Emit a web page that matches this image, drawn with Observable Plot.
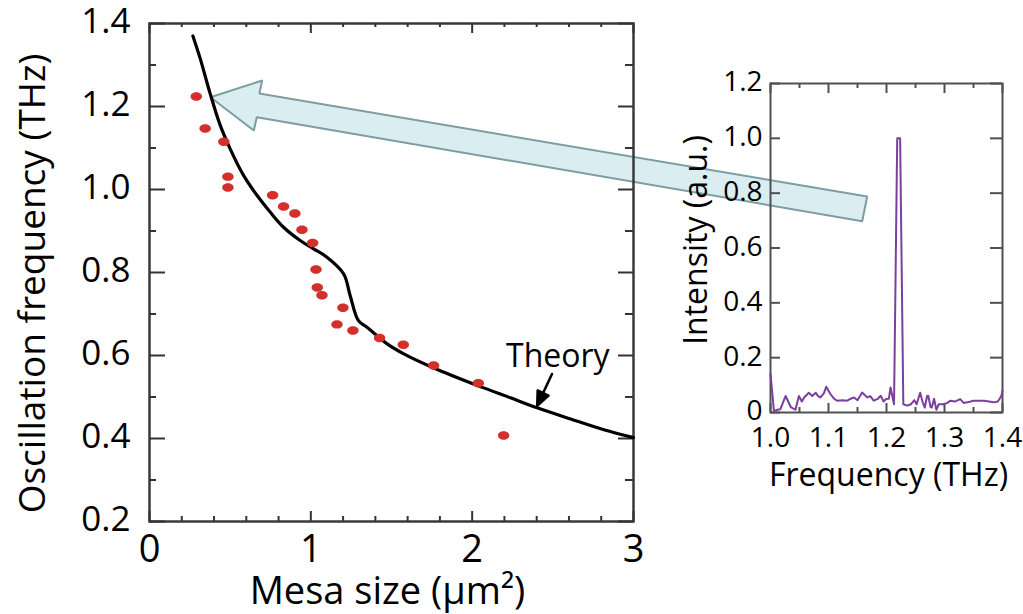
<!DOCTYPE html>
<html><head><meta charset="utf-8">
<script src="https://cdn.jsdelivr.net/npm/d3@7"></script>
<script src="https://cdn.jsdelivr.net/npm/@observablehq/plot@0.6"></script>
<style>
html,body{margin:0;padding:0;background:#fff;}
#wrap{position:relative;width:1023px;height:614px;overflow:hidden;font-family:"Open Sans",sans-serif;}
#wrap svg{position:absolute;background:transparent;overflow:visible;}
</style></head><body><div id="wrap"></div>
<script>
// ---- Main chart data ----
const mesaSize     = [0.29, 0.345, 0.461, 0.486, 0.486, 0.763, 0.831, 0.901, 0.945, 1.011, 1.032, 1.040, 1.069, 1.199, 1.162, 1.261, 1.426, 1.573, 1.761, 2.038, 2.195];
const measuredFreq = [1.224, 1.147, 1.115, 1.031, 1.005, 0.986, 0.959, 0.942, 0.903, 0.871, 0.807, 0.764, 0.745, 0.715, 0.675, 0.660, 0.642, 0.626, 0.576, 0.533, 0.407];
const theorySize   = [0.269, 0.314, 0.376, 0.438, 0.500, 0.583, 0.666, 0.749, 0.831, 0.934, 1.017, 1.100, 1.203, 1.244, 1.295, 1.348, 1.410, 1.473, 1.576, 1.762, 2.031, 2.238, 2.403, 2.610, 2.816, 3.0];
const theoryFreq   = [1.370, 1.316, 1.231, 1.155, 1.098, 1.034, 0.986, 0.945, 0.909, 0.877, 0.857, 0.837, 0.797, 0.744, 0.684, 0.668, 0.648, 0.628, 0.604, 0.570, 0.528, 0.498, 0.474, 0.447, 0.421, 0.402];
const mainXTicks      = [0, 1, 2, 3];
const mainXMinorTicks = [0.2, 0.4, 0.6, 0.8, 1.2, 1.4, 1.6, 1.8, 2.2, 2.4, 2.6, 2.8];
const mainYTicks      = [0.2, 0.4, 0.6, 0.8, 1.0, 1.2, 1.4];
const mainYMinorTicks = [0.3, 0.5, 0.7, 0.9, 1.1, 1.3];
const mainXLabel = "Mesa size (μm²)";
const mainYLabel = "Oscillation frequency (THz)";
const theoryLabel = "Theory";
// annotation anchors (main chart data units)
const theoryLabelPos = {x: 2.21, y: 0.572};
const theoryArrowTip = {x: 2.403, y: 0.479};
// callout arrow outline (main chart data units), from the inset peak to the 1.22 THz point
const calloutX = [0.378, 0.6986, 0.6806, 4.4486, 4.4176, 0.6651, 0.6465];
const calloutY = [1.2224, 1.2627, 1.2313, 0.9831, 0.9236, 1.1742, 1.1422];

// ---- Inset spectrum data ----
const specFreq = [1.000, 1.006, 1.012, 1.017, 1.026, 1.035, 1.043, 1.049, 1.054, 1.058, 1.066, 1.072, 1.078, 1.082, 1.086, 1.092, 1.096, 1.104, 1.110, 1.115, 1.124, 1.132, 1.138, 1.144, 1.150, 1.158, 1.167, 1.172, 1.178, 1.185, 1.190, 1.195, 1.199, 1.204, 1.207, 1.210, 1.213, 1.2185, 1.2235, 1.229, 1.236, 1.242, 1.248, 1.252, 1.258, 1.262, 1.266, 1.270, 1.272, 1.276, 1.278, 1.282, 1.286, 1.290, 1.298, 1.305, 1.310, 1.318, 1.327, 1.333, 1.339, 1.345, 1.350, 1.368, 1.385, 1.392, 1.398, 1.400];
const specInt  = [0.140, 0.005, 0.010, 0.012, 0.060, 0.020, 0.010, 0.060, 0.040, 0.055, 0.072, 0.060, 0.072, 0.060, 0.055, 0.070, 0.094, 0.065, 0.050, 0.043, 0.045, 0.043, 0.050, 0.055, 0.045, 0.073, 0.055, 0.060, 0.043, 0.050, 0.061, 0.040, 0.049, 0.050, 0.091, 0.060, 0.030, 1.000, 1.000, 0.030, 0.025, 0.030, 0.045, 0.030, 0.072, 0.040, 0.018, 0.060, 0.061, 0.020, 0.018, 0.050, 0.010, 0.030, 0.030, 0.035, 0.043, 0.040, 0.049, 0.035, 0.037, 0.040, 0.043, 0.043, 0.037, 0.040, 0.060, 0.080];
const insetXTicks      = [1.0, 1.1, 1.2, 1.3, 1.4];
const insetXMinorTicks = [1.05, 1.15, 1.25, 1.35];
const insetYTicks      = [0, 0.2, 0.4, 0.6, 0.8, 1.0, 1.2];
const insetXLabel = "Frequency (THz)";
const insetYLabel = "Intensity (a.u.)";

// ---- build tables ----
const measured = mesaSize.map((x, i) => ({x, y: measuredFreq[i]}));
const theory = theorySize.map((x, i) => ({x, y: theoryFreq[i]}));
const callout = calloutX.map((x, i) => ({x, y: calloutY[i]}));
const spectrum = specFreq.map((x, i) => ({x, y: specInt[i]}));

const FONT = "'Open Sans', sans-serif";
const ellipse = {
  draw(ctx, size) {
    const r = Math.sqrt(size / Math.PI), rx = r * 1.25, ry = r * 0.92, k = 0.5523;
    ctx.moveTo(rx, 0);
    ctx.bezierCurveTo(rx, ry * k, rx * k, ry, 0, ry);
    ctx.bezierCurveTo(-rx * k, ry, -rx, ry * k, -rx, 0);
    ctx.bezierCurveTo(-rx, -ry * k, -rx * k, -ry, 0, -ry);
    ctx.bezierCurveTo(rx * k, -ry, rx, -ry * k, rx, 0);
    ctx.closePath();
  }
};
const headShape = {
  draw(ctx, l) {
    ctx.moveTo(0, 0);
    ctx.lineTo(0, -l + 10);
    ctx.moveTo(-6, -l + 14);
    ctx.lineTo(0, -l);
    ctx.lineTo(6, -l + 14);
    ctx.closePath();
  }
};

// ---- main chart ----
const mW = 1023, mH = 614, mL = 149, mR = 390, mT = 23, mB = 93;
const fW = mW - mL - mR, fH = mH - mT - mB;
const tickColor = "#333";
const main = Plot.plot({
  width: mW, height: mH,
  marginLeft: mL, marginRight: mR, marginTop: mT, marginBottom: mB,
  style: {fontFamily: FONT, background: "transparent", overflow: "visible", color: "#000"},
  x: {domain: [0, 3]},
  y: {domain: [0.2, 1.4]},
  marks: [
    Plot.line(callout, {x: "x", y: "y", curve: "linear-closed", fill: "#daedf1", stroke: "#7c9ea3", strokeWidth: 2, strokeLinejoin: "miter"}),
    Plot.frame({stroke: "#3a3a3a", strokeWidth: 2.5}),
    // inward ticks
    Plot.tickY(mainYTicks, {y: d => d, insetRight: fW - 16, stroke: tickColor, strokeWidth: 2}),
    Plot.tickY(mainYMinorTicks, {y: d => d, insetRight: fW - 7, stroke: tickColor, strokeWidth: 2}),
    Plot.tickY(mainYTicks, {y: d => d, insetLeft: fW - 15, stroke: tickColor, strokeWidth: 2}),
    Plot.tickY(mainYMinorTicks, {y: d => d, insetLeft: fW - 8, stroke: tickColor, strokeWidth: 2}),
    Plot.tickX(mainXTicks, {x: d => d, insetTop: fH - 10, stroke: tickColor, strokeWidth: 2}),
    Plot.tickX(mainXMinorTicks, {x: d => d, insetTop: fH - 5, stroke: tickColor, strokeWidth: 2}),
    Plot.tickX(mainXTicks, {x: d => d, insetBottom: fH - 10, stroke: tickColor, strokeWidth: 2}),
    Plot.tickX(mainXMinorTicks, {x: d => d, insetBottom: fH - 4, stroke: tickColor, strokeWidth: 2}),
    Plot.axisX({ticks: mainXTicks, tickSize: 0, tickPadding: 14, fontSize: 38, label: null, tickFormat: d => String(d)}),
    Plot.axisY({ticks: mainYTicks, tickSize: 0, tickPadding: 19, fontSize: 35, label: null, dy: -2, tickFormat: d3.format(".1f")}),
    Plot.text([mainXLabel], {frameAnchor: "bottom", textAnchor: "middle", lineAnchor: "bottom", dy: 82, dx: -4, fontSize: 38, fill: "#000"}),
    Plot.text([mainYLabel], {frameAnchor: "left", textAnchor: "middle", rotate: -90, lineAnchor: "middle", dx: -116, dy: 11, fontSize: 37, fill: "#000"}),
    Plot.line(theory, {x: "x", y: "y", stroke: "#000", strokeWidth: 3.2, curve: "catmull-rom"}),
    Plot.dot(measured, {x: "x", y: "y", r: 4.6, symbol: ellipse, fill: "#d3302b", stroke: "none"}),
    Plot.text([theoryLabel], {x: () => theoryLabelPos.x, y: () => theoryLabelPos.y, textAnchor: "start", lineAnchor: "bottom", fontSize: 32, fill: "#000"}),
    Plot.vector([theoryArrowTip], {x: "x", y: "y", length: 35, rotate: 205, anchor: "end", shape: headShape, stroke: "#000", fill: "#000", strokeWidth: 2.5})
  ]
});
main.style.left = "0px"; main.style.top = "0px";

// ---- inset chart ----
const iLeft = 700, iTop = 60, iW = 323, iH = 460;
const iL = 70, iR = 21, iT = 23, iB = 108;
const ifW = iW - iL - iR, ifH = iH - iT - iB;
const inset = Plot.plot({
  width: iW, height: iH,
  marginLeft: iL, marginRight: iR, marginTop: iT, marginBottom: iB,
  style: {fontFamily: FONT, background: "transparent", overflow: "visible", color: "#000"},
  x: {domain: [1.0, 1.4]},
  y: {domain: [0, 1.2]},
  marks: [
    Plot.frame({stroke: "#505050", strokeWidth: 2}),
    Plot.tickY(insetYTicks, {y: d => d, insetRight: ifW - 10, stroke: "#505050", strokeWidth: 2}),
    Plot.tickY(insetYTicks, {y: d => d, insetLeft: ifW - 12, stroke: "#505050", strokeWidth: 2}),
    Plot.tickX(insetXTicks, {x: d => d, insetTop: ifH - 9, stroke: "#505050", strokeWidth: 2}),
    Plot.tickX(insetXMinorTicks, {x: d => d, insetTop: ifH - 5, stroke: "#505050", strokeWidth: 2}),
    Plot.tickX(insetXTicks, {x: d => d, insetBottom: ifH - 10, stroke: "#505050", strokeWidth: 2}),
    Plot.tickX(insetXMinorTicks, {x: d => d, insetBottom: ifH - 5, stroke: "#505050", strokeWidth: 2}),
    Plot.axisX({ticks: insetXTicks, tickSize: 0, tickPadding: 15, fontSize: 28, label: null, tickFormat: d3.format(".1f")}),
    Plot.axisY({ticks: insetYTicks, tickSize: 0, tickPadding: 8, fontSize: 28, label: null, dy: -1, tickFormat: d => d === 0 ? "0" : d.toFixed(1)}),
    Plot.text([insetXLabel], {frameAnchor: "bottom", textAnchor: "middle", lineAnchor: "bottom", dy: 73, dx: 2, fontSize: 32, fill: "#000"}),
    Plot.text([insetYLabel], {frameAnchor: "left", textAnchor: "middle", rotate: -90, lineAnchor: "middle", dx: -74, dy: -8, fontSize: 32, fill: "#000"}),
    Plot.line(spectrum, {x: "x", y: "y", stroke: "#7b3f9c", strokeWidth: 2})
  ]
});
inset.style.left = iLeft + "px"; inset.style.top = iTop + "px";

const wrap = document.getElementById("wrap");
wrap.appendChild(main);
wrap.appendChild(inset);
</script>
</body></html>
